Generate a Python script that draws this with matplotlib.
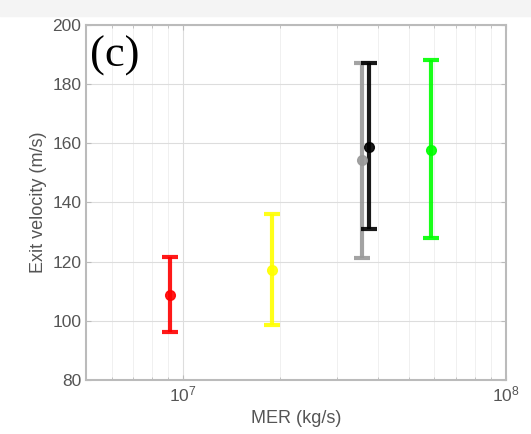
import matplotlib
matplotlib.use('Agg')
import matplotlib.pyplot as plt
from matplotlib.patches import Rectangle

mer = [9.1e6, 1.89e7, 3.58e7, 3.77e7, 5.86e7]
vel = [108.7, 117.2, 154.4, 158.8, 157.8]
err_lo = [96.2, 98.6, 121.2, 131.0, 128.0]
err_hi = [121.6, 136.1, 187.0, 187.2, 188.2]
colors = ['#ff0000', '#ffff00', '#999999', '#000000', '#00ff00']

plt.rcParams['font.family'] = ['Liberation Sans', 'DejaVu Sans']

fig = plt.figure(figsize=(5.31, 4.34), dpi=100)
# faint strip along the top of the screenshot
fig.patches.append(Rectangle((0, 1-16/434), 1, 16/434, transform=fig.transFigure,
                             color='#f4f4f4', zorder=0))
ax = fig.add_axes([86/531, 1-380/434, 420/531, 355/434])

for x, y, lo, hi, c in zip(mer, vel, err_lo, err_hi, colors):
    ax.errorbar([x], [y], yerr=[[y-lo], [hi-y]], fmt='o', color=c, ms=7,
                elinewidth=3, capsize=6, capthick=3, alpha=0.9)

ax.set_xscale('log')
ax.set_xlim(5e6, 1e8)
ax.set_ylim(80, 200)
ax.set_yticks(range(80, 201, 20))
ax.grid(True, which='major', color='#dddddd', lw=0.8)
ax.grid(True, which='minor', axis='x', color='#eeeeee', lw=0.6)
for s in ax.spines.values():
    s.set_color('#bbbbbb')
    s.set_linewidth(1.5)
ax.tick_params(which='both', direction='in', colors='#555555', labelsize=12.5,
               top=True, right=True)
ax.tick_params(which='both', color='#bbbbbb')
ax.set_xlabel('MER (kg/s)', fontsize=13, color='#555555')
ax.set_ylabel('Exit velocity (m/s)', fontsize=13, color='#555555')
ax.text(0.01, 0.97, '(c)', transform=ax.transAxes, va='top', ha='left',
        fontsize=32, family='Liberation Serif')

fig.savefig('out.png', dpi=100, facecolor='white')
